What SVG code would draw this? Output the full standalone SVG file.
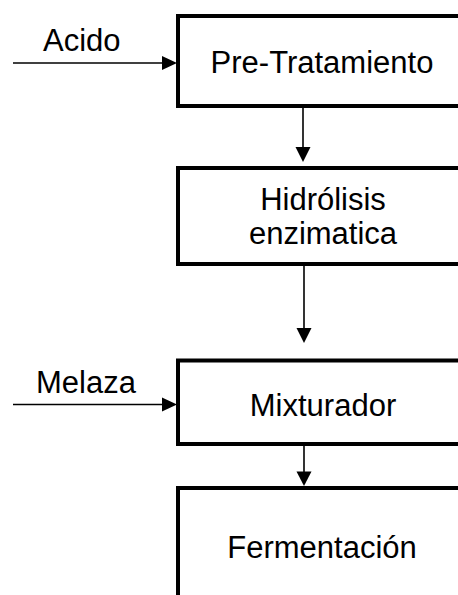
<svg xmlns="http://www.w3.org/2000/svg" width="458" height="595" viewBox="0 0 458 595">
  <style>
    .box { fill: #ffffff; stroke: #000000; stroke-width: 4; }
    .lbl { font-family: "Liberation Sans", Arial, sans-serif; font-size: 31px; fill: #000000; }
    .mid { text-anchor: middle; }
    .wire { stroke: #000000; stroke-width: 1.6; fill: none; }
    .head { fill: #000000; }
  </style>
  <rect x="0" y="0" width="458" height="595" fill="#ffffff"/>

  <g id="connectors">
    <!-- Acido feed -->
    <line class="wire" x1="13" y1="63" x2="164" y2="63"/>
    <polygon class="head" points="162,56 177,63 162,70"/>
    <text class="lbl" x="43" y="51">Acido</text>
    <!-- Pre-Tratamiento to Hidrolisis -->
    <line class="wire" x1="303" y1="108" x2="303" y2="149"/>
    <polygon class="head" points="295.5,147 310.5,147 303,162"/>
    <!-- Hidrolisis to Mixturador -->
    <line class="wire" x1="304" y1="266" x2="304" y2="330"/>
    <polygon class="head" points="296.5,328 311.5,328 304,343"/>
    <!-- Melaza feed -->
    <line class="wire" x1="13" y1="404.5" x2="164" y2="404.5"/>
    <polygon class="head" points="162,397.5 177,404.5 162,411.5"/>
    <text class="lbl" x="36" y="393">Melaza</text>
    <!-- Mixturador to Fermentacion -->
    <line class="wire" x1="304" y1="446" x2="304" y2="473"/>
    <polygon class="head" points="296.5,471.5 311.5,471.5 304,486"/>
  </g>

  <g id="pretratamiento">
    <rect class="box" x="178" y="16" width="300" height="90"/>
    <text class="lbl mid" x="322" y="73">Pre-Tratamiento</text>
  </g>

  <g id="hidrolisis">
    <rect class="box" x="178" y="168" width="300" height="96"/>
    <text class="lbl mid" x="323" y="210">Hidrólisis</text>
    <text class="lbl mid" x="323" y="243.5">enzimatica</text>
  </g>

  <g id="mixturador">
    <rect class="box" x="178" y="360.5" width="300" height="83.5"/>
    <text class="lbl mid" x="323" y="416">Mixturador</text>
  </g>

  <g id="fermentacion">
    <rect class="box" x="178" y="488" width="300" height="140"/>
    <text class="lbl mid" x="322" y="558">Fermentación</text>
  </g>
</svg>
